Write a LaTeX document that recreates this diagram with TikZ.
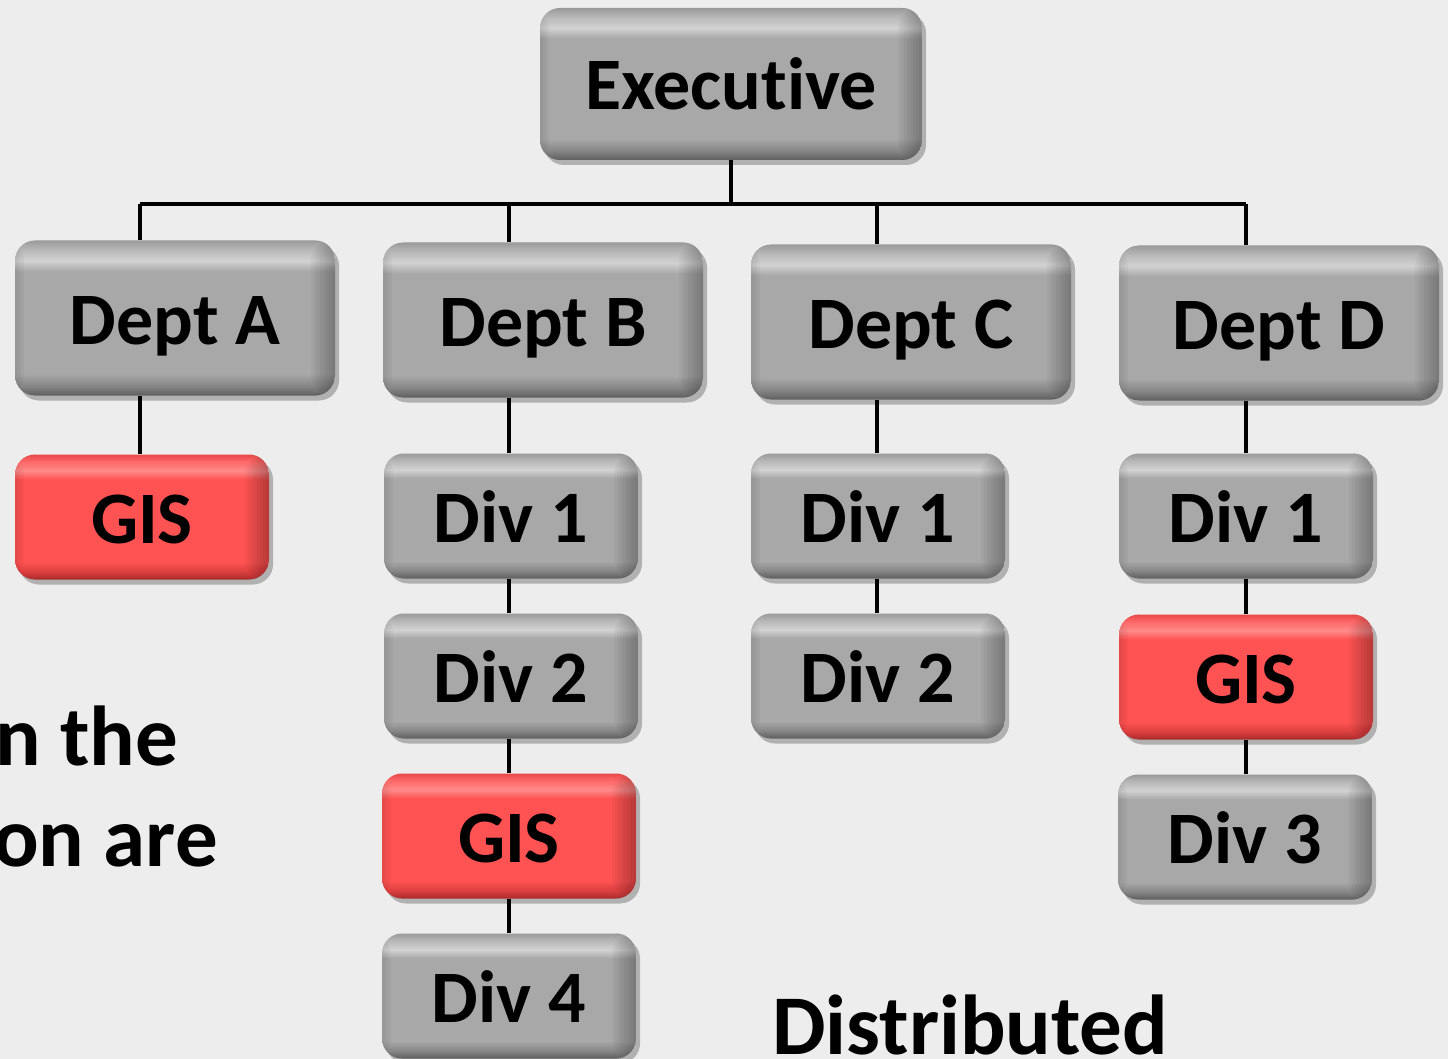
\documentclass[tikz,border=0pt]{standalone}
\usepackage{fontspec}
\setmainfont{Carlito}[Ligatures={NoCommon}]
\usetikzlibrary{shadows,calc}
\definecolor{bgc}{HTML}{EDEDED}
\definecolor{ga}{HTML}{5E5E5E}
\definecolor{gb}{HTML}{858585}
\definecolor{gc}{HTML}{A8A8A8}
\definecolor{gd}{HTML}{D2D2D2}
\definecolor{ge}{HTML}{B8B8B8}
\definecolor{gf}{HTML}{9A9A9A}
\definecolor{ra}{HTML}{A82A2A}
\definecolor{rb}{HTML}{D83E3E}
\definecolor{rc}{HTML}{FF5252}
\definecolor{rd}{HTML}{FF8A8A}
\definecolor{re}{HTML}{FF6A6A}
\definecolor{rf}{HTML}{E84848}
\pgfdeclareverticalshading{grayshade}{100bp}{color(0bp)=(ga); color(25bp)=(ga); color(28bp)=(gb); color(32bp)=(gc); color(65bp)=(gc); color(68.5bp)=(gd); color(72bp)=(ge); color(75bp)=(gf); color(100bp)=(gf)}
\pgfdeclareverticalshading{redshade}{100bp}{color(0bp)=(ra); color(25bp)=(ra); color(28bp)=(rb); color(32bp)=(rc); color(65bp)=(rc); color(68.5bp)=(rd); color(72bp)=(re); color(75bp)=(rf); color(100bp)=(rf)}
\pgfdeclarelayer{bg}
\pgfdeclarelayer{lines}
\pgfsetlayers{bg,lines,main}
\tikzset{
  boxbase/.style={rounded corners=20pt, inner sep=0pt, align=center,
    font=\fontsize{74}{80}\selectfont\bfseries, text=black,
    text height=59pt, text depth=7pt,
    drop shadow={shadow xshift=4pt, shadow yshift=-5pt, opacity=0.25, fill=black},
    path picture={
      \foreach \w in {3,6,...,24}
        \fill[black, opacity=0.035]
          ($(path picture bounding box.north east)+(-\w pt,0)$) rectangle (path picture bounding box.south east);
      \foreach \w in {3,6,9}
        \fill[black, opacity=0.03]
          (path picture bounding box.north west) rectangle ($(path picture bounding box.south west)+(\w pt,0)$);
    }},
  graybox/.style={boxbase, shading=grayshade},
  redbox/.style={boxbase, shading=redshade},
  topbox/.style={graybox, minimum width=382pt, minimum height=152pt},
  deptbox/.style={graybox, minimum width=320pt, minimum height=155pt},
  divbox/.style={graybox, minimum width=254pt, minimum height=125pt},
  gisbox/.style={redbox, minimum width=254pt, minimum height=125pt},
  conn/.style={line width=4.5pt, black},
  bigtext/.style={font=\fontsize{85}{90}\selectfont\bfseries, inner sep=0pt}
}
\begin{document}
\begin{tikzpicture}[x=1pt,y=-1pt]
\begin{pgfonlayer}{bg}
\fill[bgc] (0,0) rectangle (1448,1059);
\end{pgfonlayer}
\useasboundingbox (0,0) rectangle (1448,1059);

\node[topbox] (exec) at (731,84) {Executive};
\node[deptbox] (deptA) at (175,318) {Dept A};
\node[deptbox] (deptB) at (543,320) {Dept B};
\node[deptbox] (deptC) at (911,322) {Dept C};
\node[deptbox] (deptD) at (1279,323) {Dept D};

\node[gisbox] (gisA) at (142,517) {GIS};
\node[divbox] (b1) at (511,516) {Div 1};
\node[divbox] (b2) at (511,676) {Div 2};
\node[gisbox] (gisB) at (509,836) {GIS};
\node[divbox] (b4) at (509,996) {Div 4};
\node[divbox] (c1) at (878,516) {Div 1};
\node[divbox] (c2) at (878,676) {Div 2};
\node[divbox] (d1) at (1246,516) {Div 1};
\node[gisbox] (gisD) at (1246,677) {GIS};
\node[divbox] (d3) at (1245,837) {Div 3};

\coordinate (bus) at (731,204);
\coordinate (busA) at (140,204);
\coordinate (busB) at (509,204);
\coordinate (busC) at (877,204);
\coordinate (busD) at (1246,204);

\begin{pgfonlayer}{lines}
\draw[conn] (exec.south) -- (bus);
\draw[conn] (busA) -- (busD);
\draw[conn] (busA) -- (busA |- deptA.north);
\draw[conn] (busB) -- (busB |- deptB.north);
\draw[conn] (busC) -- (busC |- deptC.north);
\draw[conn] (busD) -- (busD |- deptD.north);
\draw[conn] (busA |- deptA.south) -- (busA |- gisA.north);
\draw[conn] (busB |- deptB.south) -- (busB |- b1.north);
\draw[conn] (busB |- b1.south) -- (busB |- b2.north);
\draw[conn] (busB |- b2.south) -- (busB |- gisB.north);
\draw[conn] (busB |- gisB.south) -- (busB |- b4.north);
\draw[conn] (busC |- deptC.south) -- (busC |- c1.north);
\draw[conn] (busC |- c1.south) -- (busC |- c2.north);
\draw[conn] (busD |- deptD.south) -- (busD |- d1.north);
\draw[conn] (busD |- d1.south) -- (busD |- gisD.north);
\draw[conn] (busD |- gisD.south) -- (busD |- d3.north);
\end{pgfonlayer}

\node[bigtext, anchor=base west] (t1) at (-5,765) {n the};
\node[bigtext, anchor=base west] (t2) at (-7,866) {on are};
\node[bigtext, anchor=base west] (t3) at (772,1054) {Distributed};
\end{tikzpicture}
\end{document}
